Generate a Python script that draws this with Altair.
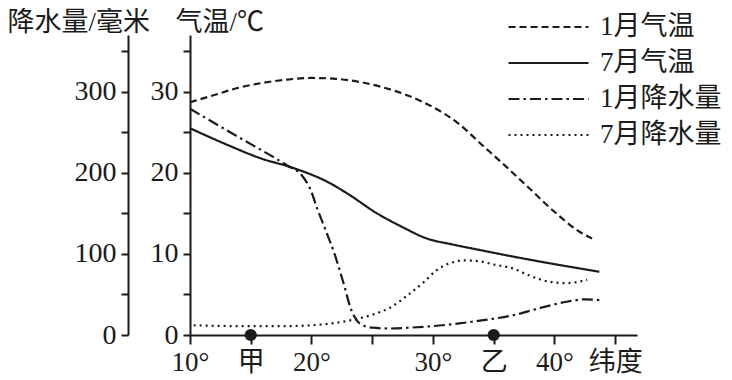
import altair as alt
import pandas as pd

INK = "#1b1b1b"
SERIF = "Liberation Serif, Noto Sans CJK SC"

# ---- data ----
series_names = ["1月气温", "7月气温", "1月降水量", "7月降水量"]

jan_temp_lat = [10, 12, 14, 16, 18, 20, 22, 24, 26, 28, 30, 32, 34, 36, 38, 40, 42, 43.1]
jan_temp = [28.7, 29.6, 30.5, 31.1, 31.5, 31.7, 31.6, 31.2, 30.5, 29.5, 28.1, 26.2, 23.5, 20.8, 18.0, 15.2, 12.8, 11.9]

jul_temp_lat = [10, 13, 15.8, 18.5, 21.3, 22.9, 25.4, 27.5, 29.5, 31.5, 33.8, 36.5, 39.4, 43.7]
jul_temp = [25.5, 23.5, 21.8, 20.6, 18.9, 17.5, 15.0, 13.3, 11.9, 11.2, 10.5, 9.7, 8.9, 7.8]

jan_prec_lat = [10, 14, 18, 19.2, 19.9, 20.5, 21.2, 21.9, 22.6, 23.3, 24.0, 25.0, 26.5, 28, 30, 32, 34, 36.5, 39, 41, 42.5, 43.7]
jan_prec = [279, 244, 209, 197, 180, 155, 128, 100, 66, 30, 14, 9, 8, 9, 11, 14, 18, 24, 34, 41, 44, 43]

jul_prec_lat = [10.3, 14, 18, 20, 22, 23.5, 25, 26.5, 28, 29.3, 30.3, 31.5, 32.5, 33.8, 35, 36.6, 38, 39.5, 41, 42.7]
jul_prec = [12, 11, 11, 12, 15, 19, 25, 34, 50, 66, 80, 89, 92, 91, 87, 82, 73, 66, 64, 68]

marker_lat = [15, 35]
marker_val = [0, 0]

x_tick_values = [10, 15, 20, 25, 30, 35, 40, 45]
x_tick_labels = ["10°", "甲", "20°", "", "30°", "乙", "40°", "纬度"]

temp_ticks = [0, 5, 10, 15, 20, 25, 30, 35]
prec_ticks = [0, 50, 100, 150, 200, 250, 300, 350]

dashes = [[7, 4], [1, 0], [11, 4, 2.5, 4], [2, 4]]

# ---- tables ----
temp_df = pd.concat([
    pd.DataFrame({"lat": jan_temp_lat, "val": jan_temp, "series": series_names[0]}),
    pd.DataFrame({"lat": jul_temp_lat, "val": jul_temp, "series": series_names[1]}),
])
prec_df = pd.concat([
    pd.DataFrame({"lat": jan_prec_lat, "val": jan_prec, "series": series_names[2]}),
    pd.DataFrame({"lat": jul_prec_lat, "val": jul_prec, "series": series_names[3]}),
])
marker_df = pd.DataFrame({"lat": marker_lat, "val": marker_val})

label_expr = "''"
for v, l in reversed(list(zip(x_tick_values, x_tick_labels))):
    label_expr = f"datum.value == {v} ? '{l}' : ({label_expr})"

x_enc = alt.X(
    "lat:Q",
    scale=alt.Scale(domain=[10, 46.8], nice=False, zero=False),
    axis=alt.Axis(
        values=x_tick_values, labelExpr=label_expr, title=None, grid=False,
        tickSize=9, tickWidth=2, domainWidth=2, domainColor=INK, tickColor=INK,
        labelFont=SERIF, labelFontSize=27, labelColor=INK, labelPadding=5,
        labelOverlap=False, labelFlush=False, labelBound=False,
    ),
)

common_y_axis = dict(
    grid=False, tickSize=7, tickWidth=2, domainWidth=2, domainColor=INK, tickColor=INK,
    labelFont=SERIF, labelFontSize=28, labelColor=INK, labelPadding=5,
    labelOverlap=False, labelFlush=False,
    titleFont=SERIF, titleFontSize=27, titleFontWeight="normal", titleColor=INK,
    titleAngle=0, titleAlign="left", titleBaseline="alphabetic", titleY=-5,
)

temp_axis = alt.Axis(
    orient="left", values=temp_ticks, title="气温/℃", titleX=-15,
    labelExpr="datum.value % 10 == 0 ? datum.label : ''", **common_y_axis,
)
prec_axis = alt.Axis(
    orient="left", offset=62, values=prec_ticks, title="降水量/毫米", titleX=-121,
    labelExpr="datum.value % 100 == 0 ? datum.label : ''", **common_y_axis,
)

dash_enc = alt.StrokeDash(
    "series:N",
    scale=alt.Scale(domain=series_names, range=dashes),
    legend=alt.Legend(
        title=None, orient="none", legendX=317, legendY=-22, padding=0,
        symbolType="stroke", symbolSize=6400, symbolStrokeWidth=2.2,
        symbolStrokeColor=INK, labelFont=SERIF, labelFontSize=27, labelColor=INK,
        labelOffset=10, rowPadding=8, labelLimit=400, clipHeight=28,
    ),
)

temp_lines = alt.Chart(temp_df).mark_line(
    interpolate="monotone", strokeWidth=2.2, color=INK
).encode(
    x=x_enc,
    y=alt.Y("val:Q", scale=alt.Scale(domain=[0, 37], nice=False), axis=temp_axis),
    strokeDash=dash_enc,
)

prec_scale = alt.Scale(domain=[0, 370], nice=False)
prec_lines = alt.Chart(prec_df).mark_line(
    interpolate="monotone", strokeWidth=2.2, color=INK
).encode(
    x=x_enc,
    y=alt.Y("val:Q", scale=prec_scale, axis=prec_axis),
    strokeDash=dash_enc,
)

markers = alt.Chart(marker_df).mark_circle(size=150, color=INK, opacity=1).encode(
    x=x_enc,
    y=alt.Y("val:Q", scale=prec_scale, axis=prec_axis),
)

prec_group = alt.layer(prec_lines, markers)

chart = alt.layer(temp_lines, prec_group).resolve_scale(
    y="independent"
).properties(
    width=447, height=300,
    autosize=alt.AutoSizeParams(type="none"),
    padding={"left": 182, "top": 27, "right": 87, "bottom": 41},
    background="white",
).configure_view(stroke=None)

chart.save("out.html", embed_options={"renderer": "svg", "actions": False})
